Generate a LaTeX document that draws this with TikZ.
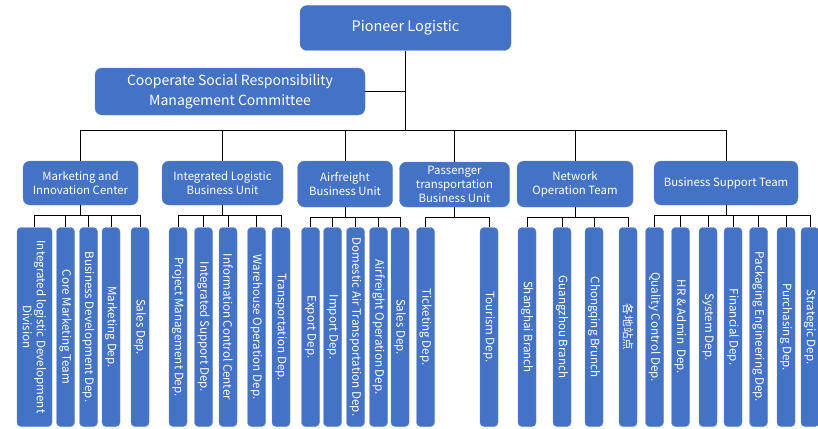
\documentclass[tikz,border=0pt]{standalone}
\usepackage{fontspec}
\setmainfont{Noto Sans CJK SC}
\definecolor{unitblue}{RGB}{68,114,196}
\definecolor{unitedge}{RGB}{96,134,204}
\tikzset{
  every box/.style={draw=unitedge, fill=unitblue, text=white, align=center, inner sep=1pt},
  every unit/.style={every box, rounded corners=7pt, font=\fontsize{11.4}{14}\selectfont},
  every dep/.style={every box, rounded corners=4pt, rotate=-90, minimum width=199pt,
    minimum height=18pt, font=\fontsize{11.6}{14}\selectfont},
  link/.style={draw=black, line width=0.8pt},
}

\begin{document}
\begin{tikzpicture}[x=1pt, y=-1pt]

\useasboundingbox (0,0) rectangle (818,428);

%% top of the chart
\node [every unit, minimum width=211pt, minimum height=45pt, font=\fontsize{14.5}{17}\selectfont]
  (pioneer) at (405.5,28) {Pioneer Logistic};
\node [every unit, minimum width=270pt, minimum height=47pt, font=\fontsize{14}{20}\selectfont]
  (csr) at (230,91.5) {Cooperate Social Responsibility\\Management Committee};

\coordinate (bus) at (405.5,130);
\draw [link, line width=1.4pt] (pioneer) -- (bus);
\draw [link] (csr.east) -- (csr.east -| pioneer.south);

%% second level
\node [every unit, minimum width=115pt, minimum height=44pt] (mic) at (80.5,183) {Marketing and\\Innovation Center};
\node [every unit, minimum width=121pt, minimum height=44pt] (ilbu) at (222.5,183) {Integrated Logistic\\Business Unit};
\node [every unit, minimum width=95pt, minimum height=46pt] (afbu) at (345,184) {Airfreight\\Business Unit};
\node [every unit, minimum width=110pt, minimum height=45pt] (ptbu) at (454.5,184.5) {Passenger\\transportation\\Business Unit};
\node [every unit, minimum width=116pt, minimum height=46pt] (not) at (575,184) {Network\\Operation Team};
\node [every unit, minimum width=144pt, minimum height=44pt] (bst) at (726,183) {Business Support Team};

\foreach \u in {mic,ilbu,afbu,ptbu,not,bst} {
  \draw [link] (bus) -| (\u);
  \path (\u.south) ++(0,10) coordinate (\u-bus);
  \draw [link] (\u) -- (\u-bus);
}

%% departments
\node [every dep, minimum height=35pt] (mic-1) at (34.5,327) {Integrated logistic Development\\Division};
\foreach \x/\l [count=\i from 2] in {65.5/Core Marketing Team, 88.5/Business Development Dep.,
    111/Marketing Dep., 140/Sales Dep.}
  \node [every dep] (mic-\i) at (\x,327) {\l};

\foreach \x/\l [count=\i] in {178/Project Management Dep., 203.5/Integrated Support Dep.,
    228/Information Control Center, 256.5/Warehouse Operation Dep., 281/Transportation Dep.}
  \node [every dep] (ilbu-\i) at (\x,327) {\l};

\foreach \x/\l [count=\i] in {310.5/Export Dep., 332.5/Import Dep.,
    355.5/Domestic Air Transportation Dep., 378.5/Airfreight Operation Dep., 400/Sales Dep.}
  \node [every dep] (afbu-\i) at (\x,327) {\l};

\foreach \x/\l [count=\i] in {425.5/Ticketing Dep., 489/Tourism Dep.}
  \node [every dep] (ptbu-\i) at (\x,327) {\l};

\foreach \x/\l [count=\i] in {527/Shanghai Branch, 562/Guangzhou Branch,
    594/Chongqing Brunch, 628/各地站点}
  \node [every dep] (not-\i) at (\x,327) {\l};

\foreach \x/\l [count=\i] in {654.5/Quality Control Dep., 680.5/HR \& Admin\ \ Dep., 708/System Dep.,
    733/Financial Dep., 758.5/Packaging Engineering Dep., 786/Purchasing Dep., 810/Strategic Dep.}
  \node [every dep] (bst-\i) at (\x,327) {\l};

%% connectors to the departments
\foreach \u/\n in {mic/5, ilbu/5, afbu/5, ptbu/2, not/4, bst/7}
  \foreach \i in {1,...,\n}
    \draw [link] (\u-bus) -| (\u-\i);

\end{tikzpicture}
\end{document}
